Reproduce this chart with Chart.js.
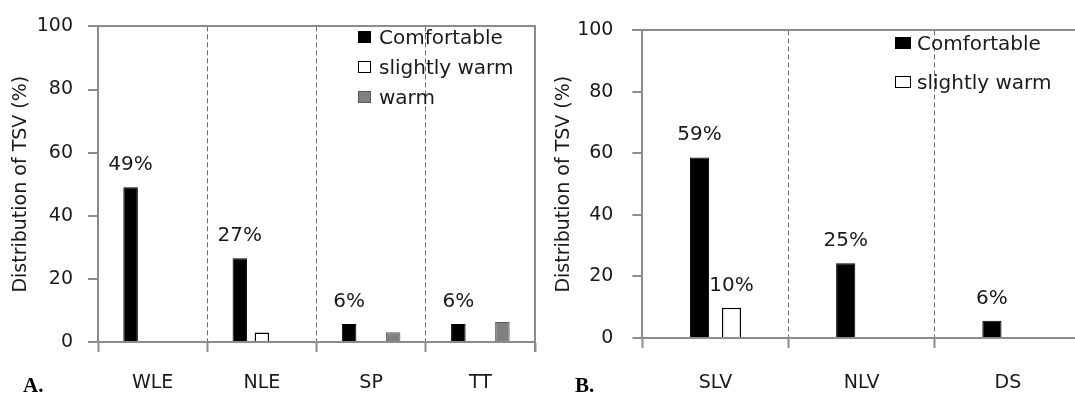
<!DOCTYPE html>
<html>
<head>
<meta charset="utf-8">
<script src="https://cdn.jsdelivr.net/npm/chart.js@4/dist/chart.umd.min.js"></script>
<style>
  html, body { margin: 0; padding: 0; background: #fff; overflow: hidden; width: 1075px; height: 398px; }
  #wrapA { position: absolute; left: 0; top: 0; width: 540px; height: 398px; }
  #wrapB { position: absolute; left: 540px; top: 0; width: 560px; height: 398px; }
  .tag { position: absolute; font-family: 'Liberation Serif', serif; font-weight: bold; font-size: 21px; line-height: 22px; color: #000; }
</style>
</head>
<body>
<div id="wrapA"><canvas id="chartA" width="540" height="398"></canvas></div>
<div id="wrapB"><canvas id="chartB" width="560" height="398"></canvas></div>
<div class="tag" style="left:23px; top:374px;">A.</div>
<div class="tag" style="left:575px; top:374px;">B.</div>
<script>
// ---------- data ----------
const seriesNames = ['Comfortable', 'slightly warm', 'warm'];
const yTicks = [0, 20, 40, 60, 80, 100];

const categoriesA = ['WLE', 'NLE', 'SP', 'TT'];
const comfortableA = [49, 26.5, 5.7, 5.7];
const slightlyWarmA = [null, 3.0, null, null];
const warmA = [null, null, 3.1, 6.3];
const comfortableLabelsA = ['49%', '27%', '6%', '6%'];

const categoriesB = ['SLV', 'NLV', 'DS'];
const comfortableB = [58.7, 24.3, 5.6];
const slightlyWarmB = [9.8, null, null];
const comfortableLabelsB = ['59%', '25%', '6%'];
const slightlyWarmLabelsB = ['10%', '', ''];

// ---------- styles ----------
const FONT = "'DejaVu Sans', sans-serif";
const TEXT = '#1a1a1a';
const AXIS = '#8c8c8c';
const DASH = '#6e6e6e';

const styleComfortable = { backgroundColor: '#000000', borderColor: '#000000', borderWidth: 1 };
const styleSlightlyWarm = { backgroundColor: '#ffffff', borderColor: '#000000', borderWidth: 1.5 };
const styleWarm = { backgroundColor: '#808080', borderColor: '#5a5a5a', borderWidth: 1 };

// ---------- plugins ----------
const framePlugin = {
  id: 'frame',
  afterDraw(chart) {
    const { ctx, chartArea: a } = chart;
    ctx.save();
    ctx.strokeStyle = AXIS;
    ctx.lineWidth = 2;
    ctx.beginPath();
    ctx.moveTo(a.left - 10, Math.round(a.top));
    ctx.lineTo(a.right + 1, Math.round(a.top));
    ctx.moveTo(Math.round(a.right), a.top);
    ctx.lineTo(Math.round(a.right), a.bottom + 10);
    ctx.stroke();
    ctx.restore();
  }
};

const valueLabelPlugin = {
  id: 'valueLabels',
  afterDatasetsDraw(chart) {
    const { ctx } = chart;
    ctx.save();
    ctx.font = "20px " + FONT;
    ctx.fillStyle = TEXT;
    ctx.textAlign = 'center';
    ctx.textBaseline = 'alphabetic';
    chart.data.datasets.forEach((ds, di) => {
      if (!ds.valueLabels) return;
      const meta = chart.getDatasetMeta(di);
      meta.data.forEach((bar, i) => {
        const t = ds.valueLabels[i];
        if (!t || ds.data[i] == null) return;
        ctx.fillText(t, bar.x, bar.y - 17);
      });
    });
    ctx.restore();
  }
};

const customLegendPlugin = {
  id: 'customLegend',
  afterDraw(chart, args, opts) {
    const { ctx } = chart;
    ctx.save();
    ctx.font = "20px " + FONT;
    ctx.textAlign = 'left';
    ctx.textBaseline = 'alphabetic';
    chart.data.datasets.forEach((ds, i) => {
      const base = opts.baselines[i];
      const bx = opts.boxX, bw = opts.boxW, bh = opts.boxH;
      const by = Math.round(base - 7 - bh / 2);
      ctx.fillStyle = ds.backgroundColor;
      ctx.fillRect(bx, by, bw, bh);
      ctx.strokeStyle = ds.borderColor;
      ctx.lineWidth = 1;
      ctx.strokeRect(bx + 0.5, by + 0.5, bw - 1, bh - 1);
      ctx.fillStyle = TEXT;
      ctx.fillText(ds.label, opts.textX, base);
    });
    ctx.restore();
  }
};

function makeOptions(cfg) {
  return {
    responsive: false,
    animation: false,
    devicePixelRatio: 1,
    layout: { padding: { top: cfg.top, right: cfg.right, left: 0, bottom: 0 } },
    plugins: {
      legend: { display: false },
      tooltip: { enabled: false },
      customLegend: cfg.legend
    },
    datasets: { bar: { categoryPercentage: cfg.catPct, barPercentage: cfg.barPct } },
    scales: {
      x: {
        afterFit: s => { s.height = cfg.xHeight; },
        grid: { offset: true, color: DASH, lineWidth: 1, drawOnChartArea: true, drawTicks: true,
                tickLength: 10, tickColor: AXIS, tickWidth: 2, tickBorderDash: [] },
        border: { display: true, color: AXIS, width: 2, dash: [5, 3] },
        ticks: { padding: cfg.xPad, color: TEXT, font: { family: FONT, size: 19 }, maxRotation: 0 }
      },
      y: {
        min: 0, max: 100,
        afterFit: s => { s.width = cfg.yWidth; },
        afterBuildTicks: s => { s.ticks = yTicks.map(v => ({ value: v })); },
        grid: { drawOnChartArea: false, drawTicks: true, tickLength: 10, color: AXIS, lineWidth: 2 },
        border: { display: true, color: AXIS, width: 2 },
        ticks: { padding: cfg.yPad, color: TEXT, font: { family: FONT, size: 19 } },
        title: { display: true, text: 'Distribution of TSV (%)', color: TEXT,
                 font: { family: FONT, size: 19 }, padding: { top: cfg.titlePad, bottom: 0 } }
      }
    }
  };
}

new Chart(document.getElementById('chartA'), {
  type: 'bar',
  data: {
    labels: categoriesA,
    datasets: [
      Object.assign({ label: seriesNames[0], data: comfortableA, valueLabels: comfortableLabelsA }, styleComfortable),
      Object.assign({ label: seriesNames[1], data: slightlyWarmA }, styleSlightlyWarm),
      Object.assign({ label: seriesNames[2], data: warmA }, styleWarm)
    ]
  },
  options: makeOptions({
    top: 18, right: 5, xHeight: 56, yWidth: 98, xPad: 20, yPad: 15, titlePad: 9.6,
    catPct: 0.605, barPct: 0.66,
    legend: { boxX: 358, boxW: 13, boxH: 12, textX: 379, baselines: [43.5, 73.5, 103.5] }
  }),
  plugins: [valueLabelPlugin, customLegendPlugin, framePlugin]
});

new Chart(document.getElementById('chartB'), {
  type: 'bar',
  data: {
    labels: categoriesB,
    datasets: [
      Object.assign({ label: seriesNames[0], data: comfortableB, valueLabels: comfortableLabelsB }, styleComfortable),
      Object.assign({ label: seriesNames[1], data: slightlyWarmB, valueLabels: slightlyWarmLabelsB }, styleSlightlyWarm)
    ]
  },
  options: makeOptions({
    top: 17.5, right: 19, xHeight: 60, yWidth: 102.4, xPad: 24, yPad: 19, titlePad: 12.6,
    catPct: 0.4375, barPct: 0.6,
    legend: { boxX: 355, boxW: 16, boxH: 12, textX: 377, baselines: [50, 89] }
  }),
  plugins: [valueLabelPlugin, customLegendPlugin, framePlugin]
});
</script>
</body>
</html>
